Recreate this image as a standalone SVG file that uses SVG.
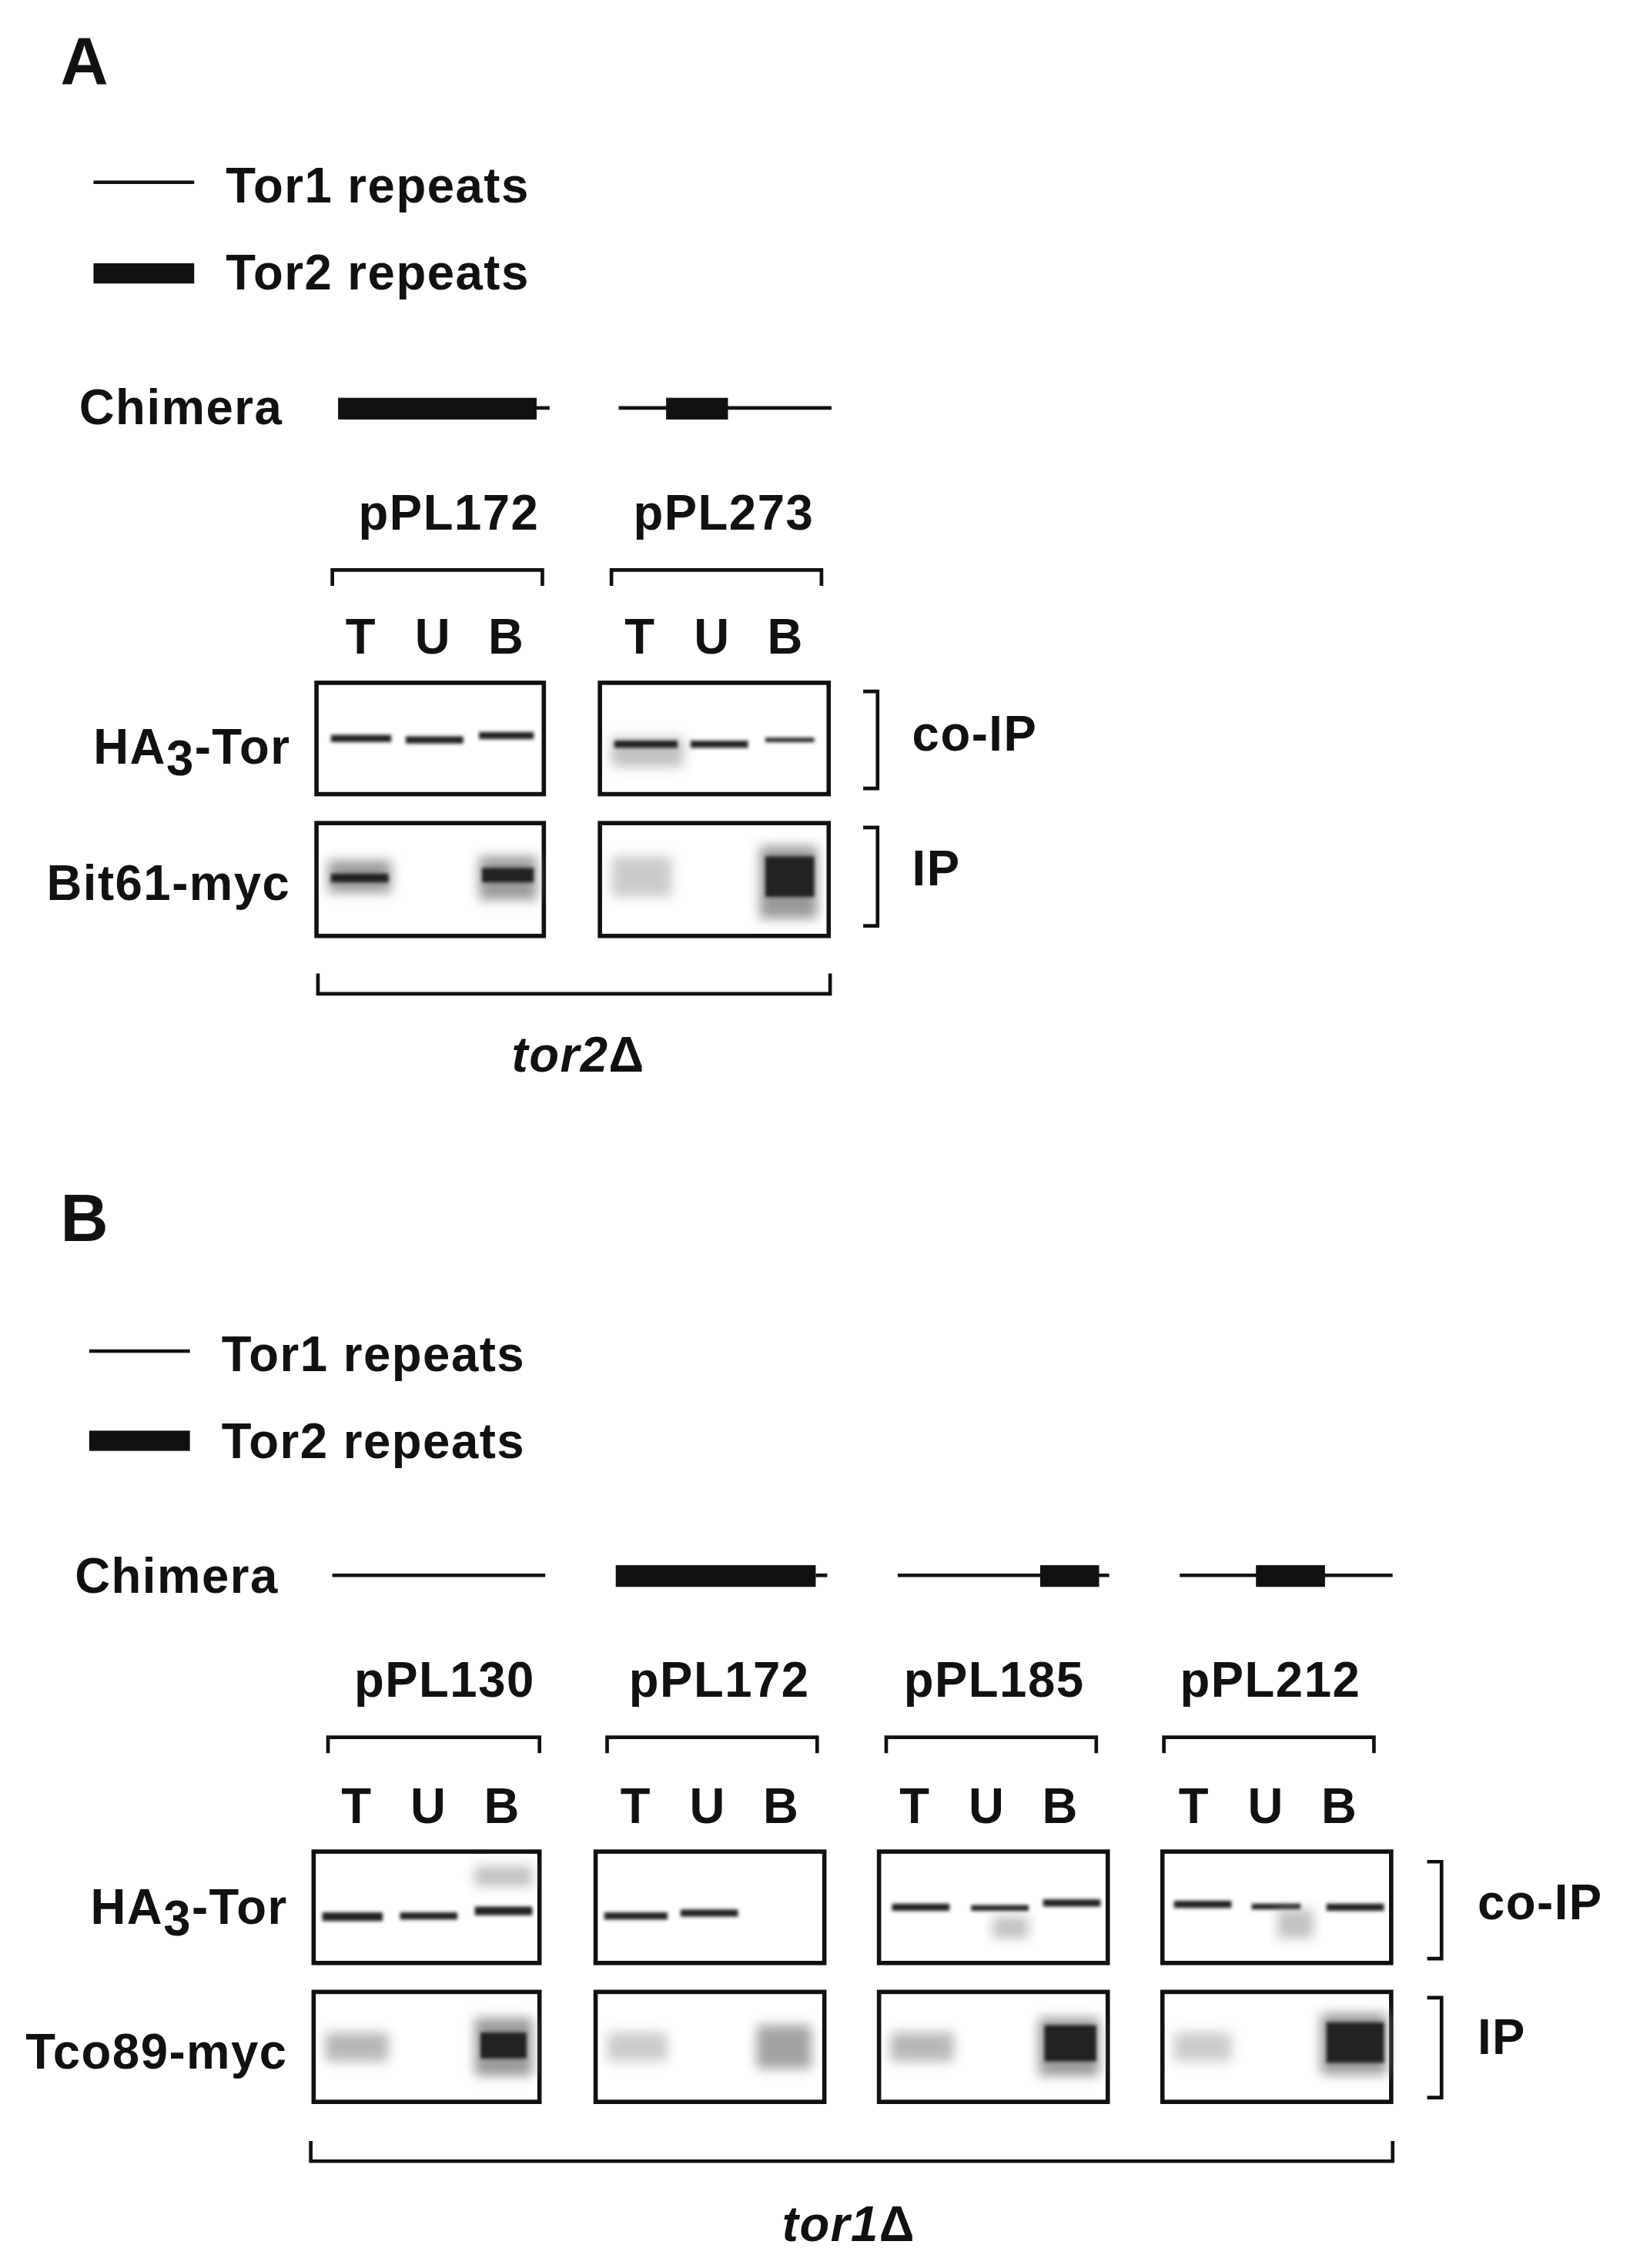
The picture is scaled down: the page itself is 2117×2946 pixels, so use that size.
<svg xmlns="http://www.w3.org/2000/svg" width="2117" height="2946" viewBox="0 0 2117 2946">
<style>
text{font-family:"Liberation Sans",Arial,sans-serif;font-weight:bold;fill:#111}
.t{font-size:34px;letter-spacing:0.8px}
.h{font-size:46px}
.c{text-anchor:middle}
.r{text-anchor:end}
.ln{stroke:#111;stroke-width:2.5;fill:none}
.box{fill:#fff;stroke:#111;stroke-width:3}
.bar{fill:#111}
.bd{fill:#222;filter:url(#bl)}
.sm{fill:#999;filter:url(#bl2)}
</style>
<defs>
<filter id="bl" x="-20%" y="-100%" width="140%" height="300%"><feGaussianBlur stdDeviation="1.2"/></filter>
<filter id="bl2" x="-20%" y="-100%" width="140%" height="300%"><feGaussianBlur stdDeviation="4"/></filter>
</defs>
<rect width="2117" height="2946" fill="#fff"/>
<g transform="scale(1.8685,1.879)">
<g id="panelA">
<text class="h" x="42" y="58">A</text>
<g id="legendA">
<line class="ln" x1="65" y1="126" x2="135" y2="126"/><text class="t" x="157" y="140">Tor1 repeats</text>
<rect class="bar" x="65" y="182" width="70" height="14"/><text class="t" x="157" y="200">Tor2 repeats</text>
</g>
<text class="t" x="55" y="293">Chimera</text>
<g id="chimA">
<rect class="bar" x="235" y="275" width="138" height="15"/><line class="ln" x1="373" y1="282" x2="382" y2="282"/>
<line class="ln" x1="430" y1="282" x2="578" y2="282"/><rect class="bar" x="463" y="275" width="43" height="15"/>
</g>
<text class="t c" x="312" y="366">pPL172</text><text class="t c" x="503" y="366">pPL273</text>
<path class="ln" d="M231 405V394H377V405M425 405V394H571V405"/>
<text class="t c" x="251" y="452">T</text><text class="t c" x="301" y="452">U</text><text class="t c" x="352" y="452">B</text>
<text class="t c" x="445" y="452">T</text><text class="t c" x="495" y="452">U</text><text class="t c" x="546" y="452">B</text>
<text class="t r" x="202" y="528">HA<tspan dy="8">3</tspan><tspan dy="-8">-Tor</tspan></text>
<text class="t r" x="202" y="622">Bit61-myc</text>
<g id="blotA1"><rect class="box" x="220" y="472" width="158" height="77"/>
<rect class="bd" x="230" y="508" width="42" height="5"/><rect class="bd" x="282" y="509" width="40" height="5"/><rect class="bd" x="333" y="506" width="38" height="5"/></g>
<g id="blotA2"><rect class="box" x="417" y="472" width="159" height="77"/>
<rect class="sm" x="425" y="510" width="50" height="20" opacity="0.6"/><rect class="bd" x="427" y="512" width="44" height="5"/><rect class="bd" x="480" y="512" width="40" height="5"/><rect class="bd" x="532" y="510" width="34" height="3"/></g>
<g id="blotA3"><rect class="box" x="220" y="569" width="158" height="78"/>
<rect class="sm" x="228" y="595" width="44" height="22"/><rect class="bd" x="230" y="604" width="40" height="6"/><rect class="sm" x="333" y="592" width="40" height="30"/><rect class="bd" x="335" y="600" width="36" height="10"/></g>
<g id="blotA4"><rect class="box" x="417" y="569" width="159" height="78"/>
<rect class="sm" x="425" y="592" width="42" height="28" opacity="0.5"/><rect class="sm" x="528" y="585" width="40" height="50"/><rect class="bd" x="532" y="592" width="34" height="28"/></g>
<path class="ln" d="M600 478H610V545H600M600 572H610V640H600"/>
<text class="t" x="634" y="519">co-IP</text><text class="t" x="634" y="612">IP</text>
<path class="ln" d="M221 673V687H577V673"/>
<text class="t c" x="402" y="741"><tspan font-style="italic">tor2</tspan>Δ</text>
</g>
<g id="panelB">
<text class="h" x="42" y="858">B</text>
<g id="legendB">
<line class="ln" x1="62" y1="934" x2="132" y2="934"/><text class="t" x="154" y="948">Tor1 repeats</text>
<rect class="bar" x="62" y="989" width="70" height="14"/><text class="t" x="154" y="1008">Tor2 repeats</text>
</g>
<text class="t" x="52" y="1101">Chimera</text>
<g id="chimB">
<line class="ln" x1="231" y1="1089" x2="379" y2="1089"/>
<rect class="bar" x="428" y="1082" width="139" height="15"/><line class="ln" x1="567" y1="1089" x2="575" y2="1089"/>
<line class="ln" x1="624" y1="1089" x2="771" y2="1089"/><rect class="bar" x="723" y="1082" width="41" height="15"/>
<line class="ln" x1="820" y1="1089" x2="968" y2="1089"/><rect class="bar" x="873" y="1082" width="48" height="15"/>
</g>
<text class="t c" x="309" y="1173">pPL130</text><text class="t c" x="500" y="1173">pPL172</text><text class="t c" x="691" y="1173">pPL185</text><text class="t c" x="883" y="1173">pPL212</text>
<path class="ln" d="M228 1212V1201H375V1212M422 1212V1201H568V1212M616 1212V1201H762V1212M809 1212V1201H955V1212"/>
<text class="t c" x="248" y="1260">T</text><text class="t c" x="298" y="1260">U</text><text class="t c" x="349" y="1260">B</text>
<text class="t c" x="442" y="1260">T</text><text class="t c" x="492" y="1260">U</text><text class="t c" x="543" y="1260">B</text>
<text class="t c" x="636" y="1260">T</text><text class="t c" x="686" y="1260">U</text><text class="t c" x="737" y="1260">B</text>
<text class="t c" x="830" y="1260">T</text><text class="t c" x="880" y="1260">U</text><text class="t c" x="931" y="1260">B</text>
<text class="t r" x="200" y="1330">HA<tspan dy="8">3</tspan><tspan dy="-8">-Tor</tspan></text>
<text class="t r" x="200" y="1430">Tco89-myc</text>
<g id="blotB1"><rect class="box" x="218" y="1280" width="157" height="77"/>
<rect class="bd" x="224" y="1322" width="42" height="6"/><rect class="bd" x="278" y="1322" width="40" height="5"/><rect class="bd" x="330" y="1318" width="40" height="6"/><rect class="sm" x="330" y="1290" width="40" height="14" opacity="0.6"/></g>
<g id="blotB2"><rect class="box" x="414" y="1280" width="159" height="77"/>
<rect class="bd" x="420" y="1322" width="44" height="5"/><rect class="bd" x="473" y="1320" width="40" height="5"/></g>
<g id="blotB3"><rect class="box" x="611" y="1280" width="159" height="77"/>
<rect class="bd" x="620" y="1316" width="40" height="5"/><rect class="bd" x="675" y="1317" width="40" height="4"/><rect class="sm" x="690" y="1325" width="25" height="15" opacity="0.6"/><rect class="bd" x="725" y="1313" width="40" height="5"/></g>
<g id="blotB4"><rect class="box" x="808" y="1280" width="159" height="77"/>
<rect class="bd" x="816" y="1314" width="40" height="5"/><rect class="bd" x="870" y="1316" width="34" height="4"/><rect class="sm" x="888" y="1320" width="25" height="20" opacity="0.6"/><rect class="bd" x="922" y="1316" width="40" height="5"/></g>
<g id="blotB5"><rect class="box" x="218" y="1377" width="157" height="76"/>
<rect class="sm" x="226" y="1405" width="44" height="20" opacity="0.7"/><rect class="sm" x="330" y="1395" width="40" height="40"/><rect class="bd" x="334" y="1405" width="32" height="18"/></g>
<g id="blotB6"><rect class="box" x="414" y="1377" width="159" height="76"/>
<rect class="sm" x="422" y="1405" width="42" height="20" opacity="0.5"/><rect class="sm" x="526" y="1400" width="38" height="30" opacity="0.9"/></g>
<g id="blotB7"><rect class="box" x="611" y="1377" width="159" height="76"/>
<rect class="sm" x="619" y="1405" width="44" height="20" opacity="0.7"/><rect class="sm" x="722" y="1395" width="42" height="40"/><rect class="bd" x="726" y="1400" width="36" height="25"/></g>
<g id="blotB8"><rect class="box" x="808" y="1377" width="159" height="76"/>
<rect class="sm" x="816" y="1405" width="40" height="20" opacity="0.5"/><rect class="sm" x="918" y="1392" width="46" height="42"/><rect class="bd" x="922" y="1398" width="40" height="28"/></g>
<path class="ln" d="M992 1287H1002V1354H992M992 1381H1002V1450H992"/>
<text class="t" x="1027" y="1327">co-IP</text><text class="t" x="1027" y="1420">IP</text>
<path class="ln" d="M216 1480V1494H968V1480"/>
<text class="t c" x="590" y="1549"><tspan font-style="italic">tor1</tspan>Δ</text>
</g>
</g>
</svg>
